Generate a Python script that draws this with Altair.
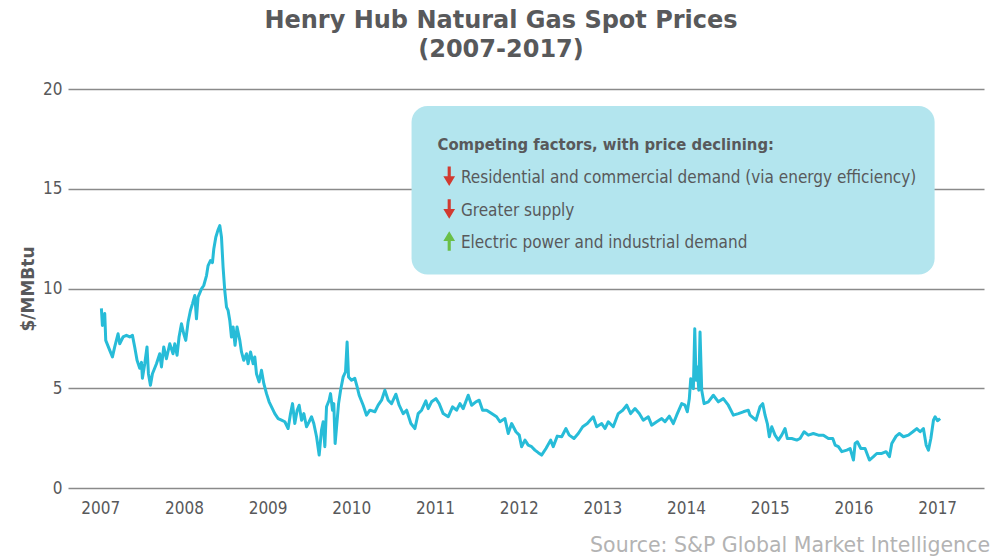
import altair as alt
import pandas as pd

# ---- data (decimal year, $/MMBtu) ----
years = [
    2007.014, 2007.026, 2007.054, 2007.066, 2007.114, 2007.146, 2007.173, 2007.213, 2007.233, 2007.273,
    2007.313, 2007.353, 2007.385, 2007.412, 2007.440, 2007.472, 2007.493, 2007.504, 2007.532, 2007.559,
    2007.576, 2007.600, 2007.624, 2007.672, 2007.711, 2007.732, 2007.759, 2007.791, 2007.831, 2007.870,
    2007.891, 2007.918, 2007.942, 2007.971, 2007.998, 2008.022, 2008.050, 2008.078, 2008.102, 2008.130,
    2008.150, 2008.169, 2008.210, 2008.237, 2008.270, 2008.289, 2008.317, 2008.341, 2008.357, 2008.381,
    2008.405, 2008.429, 2008.449, 2008.468, 2008.488, 2008.509, 2008.528, 2008.548, 2008.568, 2008.588,
    2008.611, 2008.635, 2008.668, 2008.688, 2008.715, 2008.748, 2008.767, 2008.796, 2008.827, 2008.847,
    2008.867, 2008.898, 2008.927, 2008.955, 2008.987, 2009.018, 2009.047, 2009.086, 2009.126, 2009.166,
    2009.206, 2009.245, 2009.274, 2009.298, 2009.325, 2009.353, 2009.377, 2009.406, 2009.433, 2009.465,
    2009.496, 2009.525, 2009.552, 2009.585, 2009.616, 2009.644, 2009.664, 2009.684, 2009.704, 2009.735,
    2009.752, 2009.776, 2009.791, 2009.807, 2009.824, 2009.848, 2009.872, 2009.903, 2009.931, 2009.950,
    2009.967, 2010.003, 2010.042, 2010.070, 2010.094, 2010.142, 2010.182, 2010.222, 2010.282, 2010.321,
    2010.362, 2010.401, 2010.441, 2010.481, 2010.533, 2010.572, 2010.620, 2010.661, 2010.712, 2010.760,
    2010.799, 2010.840, 2010.891, 2010.919, 2010.959, 2011.011, 2011.050, 2011.098, 2011.158, 2011.210,
    2011.258, 2011.298, 2011.337, 2011.397, 2011.438, 2011.489, 2011.528, 2011.569, 2011.617, 2011.677,
    2011.736, 2011.776, 2011.836, 2011.875, 2011.916, 2011.967, 2012.007, 2012.035, 2012.075, 2012.114,
    2012.155, 2012.194, 2012.234, 2012.274, 2012.326, 2012.382, 2012.413, 2012.461, 2012.514, 2012.565,
    2012.604, 2012.661, 2012.712, 2012.765, 2012.820, 2012.891, 2012.932, 2012.992, 2013.031, 2013.071,
    2013.130, 2013.190, 2013.243, 2013.291, 2013.338, 2013.390, 2013.441, 2013.489, 2013.549, 2013.589,
    2013.649, 2013.709, 2013.748, 2013.800, 2013.848, 2013.888, 2013.948, 2013.987, 2014.015, 2014.039,
    2014.056, 2014.087, 2014.104, 2014.119, 2014.135, 2014.152, 2014.167, 2014.187, 2014.215, 2014.266,
    2014.326, 2014.386, 2014.445, 2014.505, 2014.565, 2014.625, 2014.684, 2014.744, 2014.764, 2014.836,
    2014.884, 2014.916, 2014.944, 2014.971, 2014.995, 2015.024, 2015.063, 2015.103, 2015.143, 2015.183,
    2015.210, 2015.263, 2015.323, 2015.362, 2015.410, 2015.461, 2015.521, 2015.581, 2015.641, 2015.701,
    2015.753, 2015.781, 2015.820, 2015.861, 2015.921, 2015.960, 2016.000, 2016.020, 2016.047, 2016.088,
    2016.139, 2016.191, 2016.239, 2016.279, 2016.339, 2016.390, 2016.430, 2016.458, 2016.510, 2016.549,
    2016.597, 2016.657, 2016.710, 2016.757, 2016.797, 2016.836, 2016.869, 2016.896, 2016.925, 2016.956,
    2016.976, 2017.004, 2017.036,
]
prices = [
    9.00, 8.15, 8.75, 7.40, 6.90, 6.57, 7.07, 7.73, 7.23, 7.57,
    7.65, 7.57, 7.65, 7.07, 6.40, 6.00, 6.30, 5.50, 6.23, 7.07,
    5.73, 5.15, 5.73, 6.23, 6.73, 6.07, 7.07, 6.48, 7.23, 6.73,
    7.23, 6.65, 7.57, 8.23, 7.73, 7.40, 8.32, 8.90, 9.23, 9.65,
    8.48, 9.57, 9.98, 10.15, 10.65, 11.15, 11.40, 11.30, 11.98, 12.57,
    12.90, 13.15, 12.57, 11.07, 9.90, 9.07, 8.90, 8.40, 7.57, 8.07,
    7.15, 8.07, 7.40, 6.82, 6.40, 6.73, 6.23, 6.82, 6.23, 6.57,
    5.73, 5.32, 5.90, 5.23, 4.73, 4.32, 4.07, 3.73, 3.48, 3.40,
    3.32, 2.98, 3.73, 4.23, 3.23, 3.90, 4.15, 3.40, 3.73, 3.07,
    3.32, 3.57, 3.23, 2.57, 1.65, 2.90, 3.32, 2.07, 4.07, 4.40,
    4.73, 3.90, 4.23, 2.23, 3.07, 4.23, 4.90, 5.57, 5.82, 7.32,
    5.57, 5.40, 5.50, 5.07, 4.65, 4.15, 3.65, 3.90, 3.82, 4.15,
    4.40, 4.90, 4.40, 4.23, 4.70, 4.15, 3.73, 3.90, 3.23, 2.98,
    3.73, 3.90, 4.37, 3.98, 4.32, 4.48, 4.23, 3.73, 3.57, 4.07,
    3.90, 4.23, 3.98, 4.65, 4.15, 4.32, 4.40, 3.90, 3.90, 3.73,
    3.57, 3.32, 3.48, 2.73, 3.23, 2.82, 2.65, 2.07, 2.40, 2.15,
    2.07, 1.90, 1.77, 1.65, 1.98, 2.40, 2.07, 2.60, 2.57, 2.98,
    2.65, 2.48, 2.73, 3.07, 3.23, 3.57, 3.07, 3.23, 2.98, 3.32,
    3.07, 3.73, 3.90, 4.15, 3.73, 3.98, 3.73, 3.40, 3.57, 3.15,
    3.32, 3.48, 3.32, 3.60, 3.23, 3.65, 4.23, 4.15, 3.82, 4.48,
    5.48, 4.98, 7.98, 5.40, 6.07, 4.90, 7.82, 4.90, 4.23, 4.32,
    4.65, 4.32, 4.48, 4.15, 3.65, 3.73, 3.82, 3.90, 3.65, 3.40,
    4.07, 4.23, 3.65, 3.23, 2.57, 3.07, 2.65, 2.40, 2.65, 2.98,
    2.48, 2.48, 2.40, 2.48, 2.82, 2.65, 2.73, 2.65, 2.65, 2.48,
    2.48, 2.15, 2.07, 1.82, 1.90, 1.98, 1.40, 2.23, 2.32, 1.98,
    1.98, 1.40, 1.57, 1.73, 1.73, 1.82, 1.57, 2.23, 2.60, 2.73,
    2.57, 2.65, 2.82, 2.98, 2.82, 2.98, 2.15, 1.90, 2.48, 3.40,
    3.57, 3.37, 3.48,
]
tick_years = [2007, 2008, 2009, 2010, 2011, 2012, 2013, 2014, 2015, 2016, 2017]
y_ticks = [0, 5, 10, 15, 20]

# annotation content
note_title = "Competing factors, with price declining:"
note_items = [
    "Residential and commercial demand (via energy efficiency)",
    "Greater supply",
    "Electric power and industrial demand",
]
note_dirs = ["down", "down", "up"]
source_text = "Source: S&P Global Market Intelligence"

# annotation placement (data coordinates)
box_x = [2010.72]
box_x2 = [2016.97]
box_y = [19.15]
box_y2 = [10.70]
title_pos = (2011.03, 16.95)
item_text_x = 2011.31
arrow_x = 2011.17
item_y = [15.30, 13.65, 12.05]

NARROW = "DejaVu Sans Condensed, sans-serif"
GRAY = "#58595b"

x_scale = alt.Scale(domain=[2006.615, 2017.56], nice=False, zero=False)
y_scale = alt.Scale(domain=[0, 20], nice=False)
x_axis = alt.Axis(values=tick_years, format="d", title=None, grid=False, domain=False,
                  ticks=False, labelPadding=12, labelOverlap=False)
y_axis = alt.Axis(values=y_ticks, title="$/MMBtu", grid=True, domain=False, ticks=False,
                  labelPadding=6, titlePadding=5)

df = pd.DataFrame({"year": years, "price": prices})

line = alt.Chart(df).mark_line(color="#27bcd8", strokeWidth=3, strokeJoin="round").encode(
    x=alt.X("year:Q", scale=x_scale, axis=x_axis),
    y=alt.Y("price:Q", scale=y_scale, axis=y_axis),
)

box_df = pd.DataFrame({"year": box_x, "year2": box_x2, "price": box_y, "price2": box_y2})
box = alt.Chart(box_df).mark_rect(cornerRadius=16, color="#b3e5ee").encode(
    x=alt.X("year:Q", scale=x_scale, axis=x_axis), x2="year2:Q",
    y=alt.Y("price:Q", scale=y_scale, axis=y_axis), y2="price2:Q",
)

t_df = pd.DataFrame({"year": [title_pos[0]], "price": [title_pos[1]], "label": [note_title]})
t_mark = alt.Chart(t_df).mark_text(align="left", baseline="alphabetic", font=NARROW,
                                   fontSize=16.5, fontWeight="bold", color=GRAY).encode(
    x=alt.X("year:Q", scale=x_scale, axis=x_axis),
    y=alt.Y("price:Q", scale=y_scale, axis=y_axis),
    text="label:N",
)

items_df = pd.DataFrame({"year": [item_text_x] * 3, "price": item_y, "label": note_items})
items = alt.Chart(items_df).mark_text(align="left", baseline="alphabetic", font=NARROW,
                                      fontSize=17, color=GRAY).encode(
    x=alt.X("year:Q", scale=x_scale, axis=x_axis),
    y=alt.Y("price:Q", scale=y_scale, axis=y_axis),
    text="label:N",
)

DOWN = "M-0.16,-1 L0.16,-1 L0.16,0.0 L0.6,0.0 L0,1 L-0.6,0.0 L-0.16,0.0 Z"
UP = "M-0.16,1 L0.16,1 L0.16,0.0 L0.6,0.0 L0,-1 L-0.6,0.0 L-0.16,0.0 Z"

arrow_df = pd.DataFrame({"year": [arrow_x] * 3, "price": [v + 0.33 for v in item_y], "dir": note_dirs})
down = alt.Chart(arrow_df).transform_filter(alt.datum.dir == "down").mark_point(
    shape=DOWN, filled=True, size=380, opacity=1, color="#d13a30", strokeWidth=0).encode(
    x=alt.X("year:Q", scale=x_scale, axis=x_axis),
    y=alt.Y("price:Q", scale=y_scale, axis=y_axis),
)
up = alt.Chart(arrow_df).transform_filter(alt.datum.dir == "up").mark_point(
    shape=UP, filled=True, size=380, opacity=1, color="#6abf47", strokeWidth=0).encode(
    x=alt.X("year:Q", scale=x_scale, axis=x_axis),
    y=alt.Y("price:Q", scale=y_scale, axis=y_axis),
)

src_df = pd.DataFrame({"label": [source_text]})
src = alt.Chart(src_df).mark_text(align="right", baseline="alphabetic", font="DejaVu Sans",
                                  fontSize=20.5, color="#b3b3b3").encode(
    x=alt.value(922), y=alt.value(463), text="label:N",
)

chart = alt.layer(line, box, t_mark, items, down, up, src).properties(
    width=916, height=399,
    autosize=alt.AutoSizeParams(type="none"),
    padding={"left": 60, "top": 81, "right": 12, "bottom": 70},
    title=alt.TitleParams(
        ["Henry Hub Natural Gas Spot Prices", "(2007-2017)"],
        font="DejaVu Sans", fontSize=24, fontWeight="bold", color=GRAY,
        anchor="middle", dx=-25, offset=18, lineHeight=29,
    ),
).configure_view(stroke=None).configure_axis(
    labelFont=NARROW, labelFontSize=17, labelColor=GRAY,
    gridColor="#8a8a8a", gridWidth=1.5, gridOpacity=1,
    titleFont="DejaVu Sans", titleFontSize=17, titleFontWeight="bold", titleColor=GRAY,
)

chart.save("out.html", embed_options={"renderer": "svg", "actions": False})
